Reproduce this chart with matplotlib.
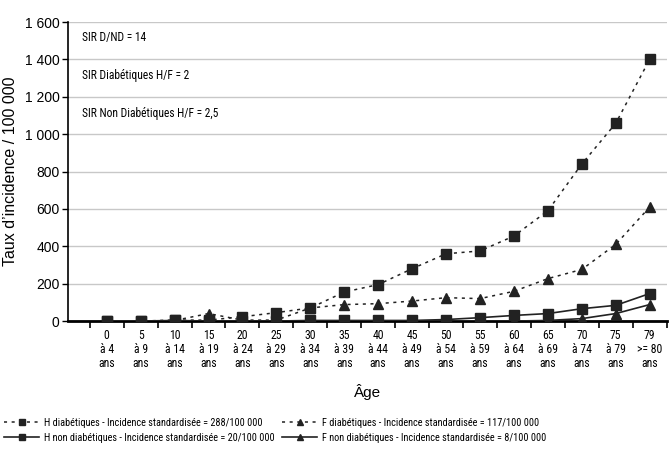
import matplotlib
matplotlib.use("Agg")
import matplotlib.pyplot as plt
import numpy as np

plt.rcParams["font.family"] = ["Liberation Sans", "DejaVu Sans"]
NARROW = ["Roboto Condensed", "Archivo Narrow", "PT Sans Narrow", "Liberation Sans Narrow",
          "Liberation Sans", "DejaVu Sans"]

AGES = ["0\nà 4\nans", "5\nà 9\nans", "10\nà 14\nans", "15\nà 19\nans", "20\nà 24\nans",
        "25\nà 29\nans", "30\nà 34\nans", "35\nà 39\nans", "40\nà 44\nans", "45\nà 49\nans",
        "50\nà 54\nans", "55\nà 59\nans", "60\nà 64\nans", "65\nà 69\nans", "70\nà 74\nans",
        "75\nà 79\nans", "79\n>= 80\nans"]

H_DIAB = [0, 0, 5, 5, 23, 45, 70, 155, 195, 280, 360, 375, 455, 590, 840, 1058, 1400]
F_DIAB = [0, 0, 3, 40, 5, 5, 70, 88, 93, 107, 125, 120, 159, 227, 276, 410, 610]
H_NON = [0, 0, 3, 0, 0, 0, 3, 3, 3, 3, 8, 18, 30, 40, 66, 84, 147]
F_NON = [0, 0, 0, 0, 0, 0, 0, 0, 0, 0, 0, 0, 0, 3, 13, 40, 88]

LABELS = [
    "H diabétiques - Incidence standardisée = 288/100 000",
    "F diabétiques - Incidence standardisée = 117/100 000",
    "H non diabétiques - Incidence standardisée = 20/100 000",
    "F non diabétiques - Incidence standardisée = 8/100 000",
]

NOTES = ["SIR D/ND = 14", "SIR Diabétiques H/F = 2", "SIR Non Diabétiques H/F = 2,5"]
NOTE_Y = [1519, 1316, 1112]

fig = plt.figure(figsize=(6.7, 4.49), dpi=100)
ax = fig.add_axes([0.1015, 0.285, 0.8935, 0.666])

x = np.arange(len(AGES))
dot = (0, (2, 3))
c = "#222222"
l1, = ax.plot(x, H_DIAB, linestyle=dot, color=c, lw=1.1, marker="s", ms=6.5, zorder=3)
l2, = ax.plot(x, F_DIAB, linestyle=dot, color=c, lw=1.1, marker="^", ms=6.5, zorder=3)
l3, = ax.plot(x, H_NON, linestyle="-", color=c, lw=1.2, marker="s", ms=6.5, zorder=3)
l4, = ax.plot(x, F_NON, linestyle="-", color=c, lw=1.2, marker="^", ms=6.5, zorder=3)

ax.set_xlim(-1.14, 16.47)
ax.set_ylim(0, 1600)
yt = np.arange(0, 1601, 200)
ax.set_yticks(yt)
ax.set_yticklabels([f"{v:,}".replace(",", " ") for v in yt], fontsize=10)
ax.yaxis.grid(True, color="#c8c8c8", lw=1)
ax.set_axisbelow(True)

ax.set_xticks(x)
ax.set_xticklabels(AGES, fontsize=8.5, family=NARROW, linespacing=1.1)
ax.tick_params(axis="x", length=0, pad=6)
ax.set_xticks(np.arange(-0.5, 16.6, 1), minor=True)
ax.tick_params(axis="x", which="minor", length=5, width=1.2, direction="out")
ax.tick_params(axis="y", length=4, width=1, pad=2)

for s in ["top", "right"]:
    ax.spines[s].set_visible(False)
ax.spines["left"].set_linewidth(1.2)
ax.spines["bottom"].set_linewidth(2)

for t, y in zip(NOTES, NOTE_Y):
    ax.text(-0.72, y, t, fontsize=8.3, va="center", family=NARROW)

ax.set_ylabel("Taux d’incidence / 100 000", fontsize=11.5)
ax.yaxis.set_label_coords(-0.083, 0.5)
ax.set_xlabel("Âge", fontsize=11, labelpad=10)

leg_kw = dict(loc="lower left", frameon=False, borderaxespad=0, handlelength=3.4,
              handletextpad=0.5, labelspacing=0.5, markerscale=0.75,
              prop={"family": NARROW, "size": 7.4})
fig.legend([l1, l3], [LABELS[0], LABELS[2]], bbox_to_anchor=(0.0, 0.004), **leg_kw)
fig.legend([l2, l4], [LABELS[1], LABELS[3]], bbox_to_anchor=(0.415, 0.004), **leg_kw)

fig.savefig("out.png", dpi=100)
